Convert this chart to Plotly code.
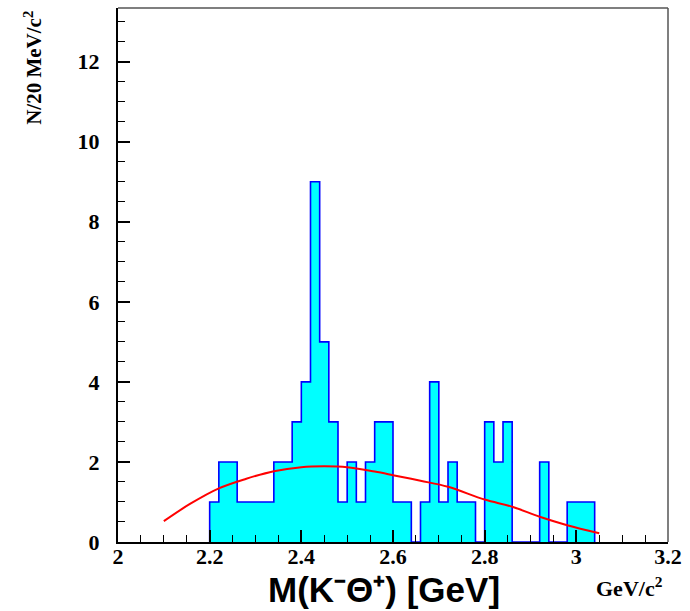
import numpy as np
import plotly.graph_objects as go

# Histogram: 20 MeV bins starting at 2.20 GeV
bin_start = 2.20
bin_width = 0.02
counts = [1, 2, 2, 1, 1, 1, 1, 2, 2, 3,
          4, 9, 5, 3, 1, 2, 1, 2, 3, 3,
          1, 1, 0, 1, 4, 1, 2, 1, 1, 0,
          3, 2, 3, 0, 0, 0, 2, 0, 0, 1,
          1, 1]

# Fitted background curve
fit_x = [2.10, 2.157, 2.22, 2.28, 2.34, 2.40, 2.45, 2.50, 2.56, 2.60,
         2.66, 2.72, 2.80, 2.86, 2.92, 2.98, 3.05]
fit_y = [0.52, 0.95, 1.34, 1.58, 1.77, 1.87, 1.89, 1.87, 1.76, 1.67,
         1.53, 1.38, 1.06, 0.88, 0.63, 0.42, 0.22]

x_ticks = [2, 2.2, 2.4, 2.6, 2.8, 3, 3.2]
y_ticks = [0, 2, 4, 6, 8, 10, 12]

edges = np.round(bin_start + bin_width * np.arange(len(counts) + 1), 4)
step_x = [edges[0]] + list(edges[:-1]) + [edges[-1], edges[-1]]
step_y = [0] + counts + [counts[-1], 0]

fig = go.Figure()
fig.add_trace(go.Scatter(
    x=step_x, y=step_y, mode="lines", line=dict(shape="hv", color="#0000ff", width=1.6),
    fill="tozeroy", fillcolor="#00ffff", hoverinfo="skip", showlegend=False))
fig.add_trace(go.Scatter(
    x=fit_x, y=fit_y, mode="lines", line=dict(shape="spline", color="#ff0000", width=2),
    hoverinfo="skip", showlegend=False))

tickfont = dict(family="Liberation Serif", size=22, color="black", weight="bold")
fig.update_layout(
    width=690, height=611,
    margin=dict(l=118, r=22, t=8, b=69),
    paper_bgcolor="white", plot_bgcolor="white",
    xaxis=dict(range=[2, 3.2], tickvals=x_ticks, ticktext=[f"{v:g}" for v in x_ticks],
               ticks="inside", ticklen=12, tickwidth=1.5, tickcolor="black",
               showline=True, linecolor="black", linewidth=2, showgrid=False, zeroline=False,
               tickfont=tickfont, ticklabelstandoff=-6,
               minor=dict(dtick=0.05, tick0=2, ticks="inside", ticklen=7, tickwidth=1.2,
                          tickcolor="black", showgrid=False)),
    yaxis=dict(range=[0, 13.34], tickvals=y_ticks, ticks="inside", ticklen=12, tickwidth=1.5,
               tickcolor="black", showline=True, linecolor="black", linewidth=2,
               showgrid=False, zeroline=False, tickfont=tickfont, ticklabelstandoff=12,
               minor=dict(dtick=0.5, tick0=0, ticks="inside", ticklen=7, tickwidth=1.2,
                          tickcolor="black", showgrid=False)),
    shapes=[
        dict(type="line", xref="paper", yref="paper", x0=0, x1=1, y0=1, y1=1,
             line=dict(color="#555555", width=1.5)),
        dict(type="line", xref="paper", yref="paper", x0=1, x1=1, y0=0, y1=1,
             line=dict(color="#555555", width=1.5)),
    ],
    annotations=[
        dict(text="N/20 MeV/c<sup>2</sup>", xref="paper", yref="paper",
             x=-0.155, y=0.998, xanchor="center", yanchor="top", textangle=-90,
             showarrow=False, font=dict(family="Liberation Serif", size=21,
                                        color="black", weight="bold")),
        dict(text="M(K⁻Θ⁺) [GeV]", xref="paper", yref="paper",
             x=0.483, y=-0.089, xanchor="center", yanchor="middle", showarrow=False,
             font=dict(family="Liberation Sans", size=35, color="black", weight="bold")),
        dict(text="GeV/c<sup>2</sup>", xref="paper", yref="paper",
             x=0.995, y=-0.084, xanchor="right", yanchor="middle", showarrow=False,
             font=dict(family="Liberation Serif", size=22, color="black", weight="bold")),
    ],
)

fig.write_html("out.html")
